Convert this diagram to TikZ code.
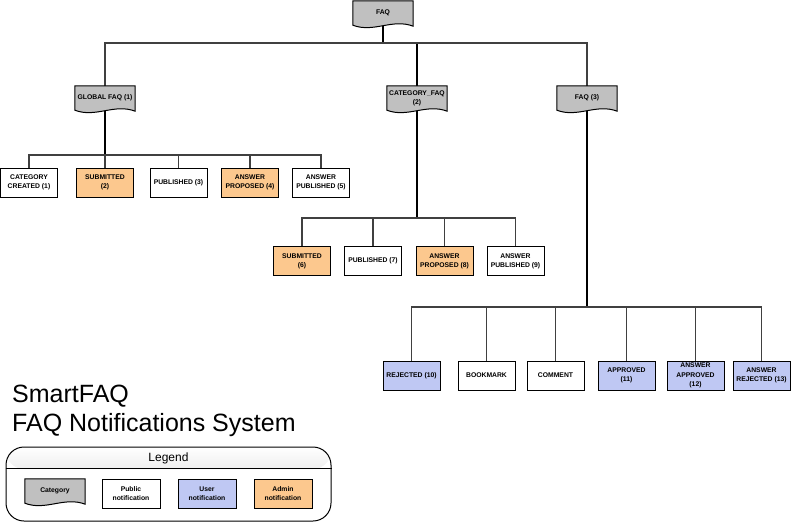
\documentclass[tikz,border=0pt]{standalone}
\usepackage{fontspec}
\setmainfont{Liberation Sans}
\usetikzlibrary{calc}
\pgfdeclarelayer{background}
\pgfsetlayers{background,main}

\definecolor{catfill}{RGB}{192,192,192}
\definecolor{userblue}{RGB}{191,200,243}
\definecolor{adminorange}{RGB}{252,200,142}

% Category "document" outline: flat top, wavy bottom edge
\newcommand\docoutline[1]{%
  \filldraw[fill=catfill, draw=black, line width=1pt]
    (#1.north west) -- (#1.north east) -- ($(#1.south east)+(0,1)$)
    .. controls ($(#1.south east)+(-21,-7)$) and ($(#1.south west)+(21,8)$) ..
    (#1.south west) -- cycle;}

\begin{document}
\begin{tikzpicture}[x=1pt,y=-1pt,
  lbl/.style={font=\bfseries\fontsize{6.8}{9.3}\selectfont, align=center, inner sep=0pt},
  docnode/.style={lbl, minimum width=60, minimum height=24},
  notebox/.style={lbl, draw=black, line width=1pt, minimum width=57, minimum height=29},
  public/.style={notebox, fill=white},
  user/.style={notebox, fill=userblue},
  admin/.style={notebox, fill=adminorange},
  branch/.style={draw=black!75, line width=1.2pt},
  trunk/.style={draw=black, line width=2pt},
  thintrunk/.style={draw=black, line width=1.2pt},
]
\useasboundingbox (0,0) rectangle (801,523);

% category nodes
\node[docnode] (faq)  at (383,13) {FAQ};
\node[docnode] (gfaq) at (105,98) {GLOBAL FAQ (1)};
\node[docnode] (cfaq) at (417,98) {CATEGORY\_FAQ\\(2)};
\node[docnode] (ffaq) at (587,98) {FAQ (3)};

% bus junctions
\coordinate (j0) at (383,43);
\coordinate (jg) at (105,155);
\coordinate (jc) at (417,218);
\coordinate (jf) at (587,307);

% GLOBAL FAQ notifications
\node[public] (g1) at (29,182.5)  {CATEGORY\\CREATED (1)};
\node[admin]  (g2) at (105,182.5) {SUBMITTED\\(2)};
\node[public] (g3) at (178.5,182.5) {PUBLISHED (3)};
\node[admin]  (g4) at (250,182.5) {ANSWER\\PROPOSED (4)};
\node[public] (g5) at (321,182.5) {ANSWER\\PUBLISHED (5)};

% CATEGORY_FAQ notifications
\node[admin]  (c1) at (302,261)   {SUBMITTED\\(6)};
\node[public] (c2) at (373,261)   {PUBLISHED (7)};
\node[admin]  (c3) at (444.5,261) {ANSWER\\PROPOSED (8)};
\node[public] (c4) at (515.5,261) {ANSWER\\PUBLISHED (9)};

% FAQ notifications
\node[user]   (f1) at (411.5,375.5) {REJECTED (10)};
\node[public] (f2) at (486.5,375.5) {BOOKMARK};
\node[public] (f3) at (555.5,375.5) {COMMENT};
\node[user]   (f4) at (626.5,375.5) {APPROVED\\(11)};
\node[user]   (f5) at (695.5,375.5) {ANSWER\\APPROVED\\(12)};
\node[user]   (f6) at (761.5,375.5) {ANSWER\\REJECTED (13)};

% title
\node[anchor=base west, inner sep=0pt, font=\fontsize{25}{29}\selectfont] (title1) at (12,402) {SmartFAQ};
\node[anchor=base west, inner sep=0pt, font=\fontsize{25}{29}\selectfont] (title2) at (12,431) {FAQ Notifications System};

% legend frame with shaded header
\node[draw=black, line width=1pt, rounded corners=18, minimum width=325, minimum height=74, inner sep=0pt,
  path picture={\shade[top color=white, bottom color=black!22]
    (path picture bounding box.north west) rectangle ($(path picture bounding box.north east)+(0,22)$);}]
  (legend) at (168.5,484) {};
\draw[line width=0.8pt] ($(legend.north west)+(0,22)$) -- ($(legend.north east)+(0,22)$);
\node[font=\fontsize{12}{14}\selectfont] (legendtitle) at (168.5,458) {Legend};
\node[docnode] (kcat) at (55,491) {Category};
\node[public, minimum width=58] (kpub) at (131,493.5) {Public\\notification};
\node[user, minimum width=58]   (kusr) at (207,493.5) {User\\notification};
\node[admin, minimum width=58]  (kadm) at (283,493.5) {Admin\\notification};

\begin{pgfonlayer}{background}
  % connectors
  \draw[thintrunk] (faq.center) -- (j0);
  \draw[branch] (j0) -| (gfaq.center);
  \draw[thintrunk] (j0) -| (cfaq.center);
  \draw[branch] (j0) -| (ffaq.center);

  \draw[trunk] (gfaq.center) -- (jg);
  \draw[branch] (jg) -| (g1.north);
  \draw[branch] (jg) -- (g2.north);
  \draw[branch] (jg) -| (g3.north);
  \draw[branch] (jg) -| (g4.north);
  \draw[branch] (jg) -| (g5.north);

  \draw[thintrunk, line width=1.6pt] (cfaq.center) -- (jc);
  \draw[branch] (jc) -| (c1.north);
  \draw[branch] (jc) -| (c2.north);
  \draw[branch] (jc) -| (c3.north);
  \draw[branch] (jc) -| (c4.north);

  \draw[trunk] (ffaq.center) -- (jf);
  \draw[branch] (jf) -| (f1.north);
  \draw[branch] (jf) -| (f2.north);
  \draw[branch] (jf) -| (f3.north);
  \draw[branch] (jf) -| (f4.north);
  \draw[branch] (jf) -| (f5.north);
  \draw[branch] (jf) -| (f6.north);

  % category outlines
  \docoutline{faq}
  \docoutline{gfaq}
  \docoutline{cfaq}
  \docoutline{ffaq}
  \docoutline{kcat}
\end{pgfonlayer}
\end{tikzpicture}
\end{document}
